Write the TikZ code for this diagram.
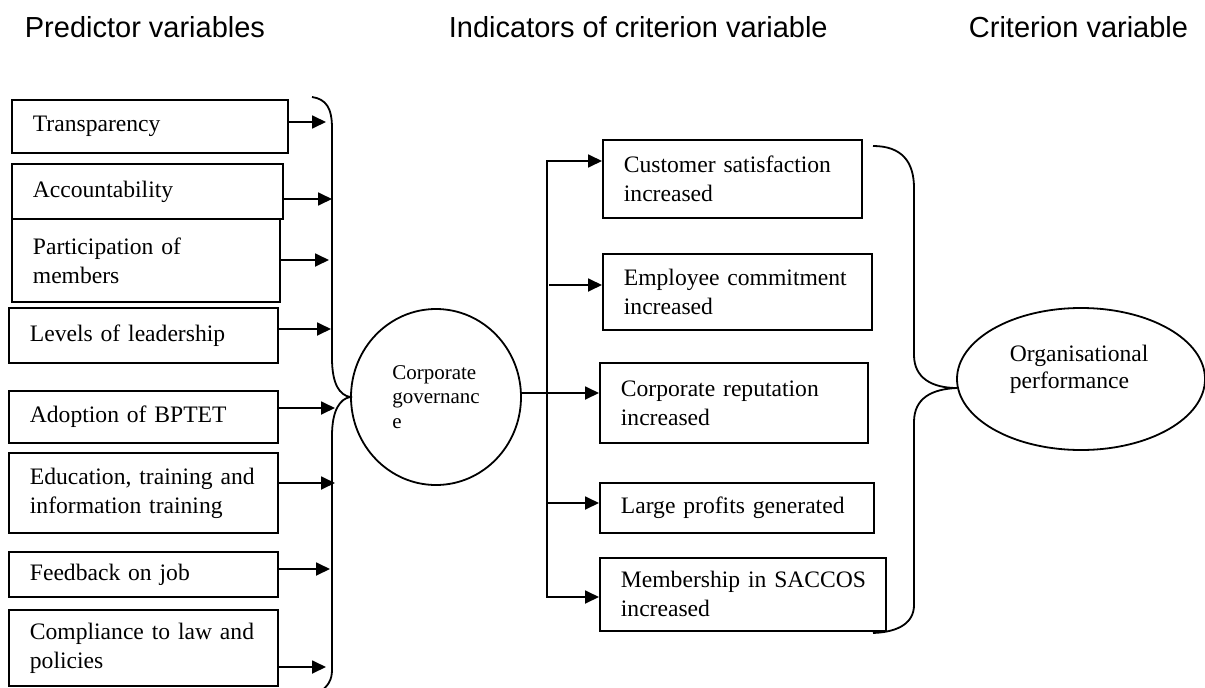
\documentclass[tikz,border=0pt]{standalone}
\usepackage{fontspec}
\setmainfont{Liberation Serif}
\newfontfamily\headfont{Liberation Sans}
\usetikzlibrary{arrows.meta,shapes.geometric}
\begin{document}
\begin{tikzpicture}[x=1pt,y=-1pt,line width=1.8pt,
  pbox/.style n args={3}{draw, rectangle, anchor=north west,
    minimum width=#1pt, minimum height=#2pt, text width=#3pt,
    inner xsep=21pt, inner ysep=0pt, align=left,
    font=\fontsize{23.6}{29}\selectfont},
  heading/.style={anchor=base west, inner sep=0pt, font=\headfont\fontsize{29}{34}\selectfont},
  oval/.style={draw, ellipse, inner sep=0pt},
  arr/.style={-{Triangle[length=14pt,width=13pt]}},
  brace/.style={line width=1.8pt}
]
\useasboundingbox (0,0) rectangle (1205,688);

% headings
\node[heading] (h1) at (24,37) {Predictor variables};
\node[heading] (h2) at (448,37) {Indicators of criterion variable};
\node[heading] (h3) at (968,37) {Criterion variable};

% predictor boxes
\node[pbox={276}{53}{234}] (tr) at (11,99) {Transparency};
\node[pbox={271}{55}{229}] (ac) at (11,163) {Accountability};
\node[pbox={268}{83}{226}] (pm) at (11,218) {\mbox{Participation of}\\members};
\node[pbox={269}{55}{227}] (ll) at (8,307) {\mbox{Levels of leadership}};
\node[pbox={269}{52}{227}] (ad) at (8,390) {\mbox{Adoption of BPTET}};
\node[pbox={269}{80}{227}] (ed) at (8,452) {\mbox{Education, training and}\\\mbox{information training}};
\node[pbox={269}{45}{227}] (fb) at (8,551) {\mbox{Feedback on job}};
\node[pbox={269}{76}{227}] (cp) at (8,609) {\mbox{Compliance to law and}\\policies};

% arrow tips at the left brace
\coordinate (a1) at (326,122);
\coordinate (a2) at (332,199);
\coordinate (a3) at (329,260);
\coordinate (a4) at (331,329);
\coordinate (a5) at (335,408);
\coordinate (a6) at (335,483);
\coordinate (a7) at (330,569);
\coordinate (a8) at (326,667);
\draw[arr] (tr.east |- a1) -- (a1);
\draw[arr] (ac.east |- a2) -- (a2);
\draw[arr] (pm.east |- a3) -- (a3);
\draw[arr] (ll.east |- a4) -- (a4);
\draw[arr] (ad.east |- a5) -- (a5);
\draw[arr] (ed.east |- a6) -- (a6);
\draw[arr] (fb.east |- a7) -- (a7);
\draw[arr] (cp.east |- a8) -- (a8);

% left brace
\draw[brace] (312,97) .. controls (326,99) and (332,108) .. (332,128)
  -- (332,358) .. controls (332,385) and (340,395) .. (350,397)
  .. controls (340,399) and (332,410) .. (332,436)
  -- (332,670) .. controls (332,680) and (328,686) .. (320,692);

% corporate governance
\node[oval, minimum width=170pt, minimum height=176pt, align=left,
  font=\fontsize{21}{24.5}\selectfont] (cg) at (436,397) {Corporate\\governanc\\e};

% indicator boxes
\node[pbox={259}{78}{217}] (cs) at (602,139) {\mbox{Customer satisfaction}\\increased};
\node[pbox={269}{76}{227}] (ec) at (602,253) {\mbox{Employee commitment}\\increased};
\node[pbox={268}{80}{226}] (cr) at (599,362) {\mbox{Corporate reputation}\\increased};
\node[pbox={274}{50}{232}] (lp) at (599,482) {\mbox{Large profits generated}};
\node[pbox={286}{73}{244}] (ms) at (599,557) {\mbox{Membership in SACCOS}\\increased};

% bus
\coordinate (b1) at (547,161);
\coordinate (b2) at (549,285);
\coordinate (b3) at (547,393);
\coordinate (b4) at (547,503);
\coordinate (b5) at (547,597);
\draw[{Triangle[length=14pt,width=13pt]}-{Triangle[length=14pt,width=13pt]}]
  (cs.west |- b1) -- (b1) -- (b5) -- (ms.west |- b5);
\draw[arr] (b2) -- (ec.west |- b2);
\draw[arr] (cg.east |- b3) -- (cr.west |- b3);
\draw[arr] (b4) -- (lp.west |- b4);

% right brace
\draw[brace] (873,146) .. controls (902,146) and (914,162) .. (914,188)
  -- (914,355) .. controls (914,378) and (932,388) .. (957,388)
  .. controls (932,389) and (914,398) .. (914,422)
  -- (914,605) .. controls (914,622) and (900,632) .. (873,633);

% organisational performance
\node[oval, minimum width=248pt, minimum height=142pt] (op) at (1081,379) {};
\node[anchor=north west, inner sep=0pt, align=left,
  font=\fontsize{23.6}{27}\selectfont] (optext) at (1009,344) {Organisational\\performance};
\end{tikzpicture}
\end{document}
